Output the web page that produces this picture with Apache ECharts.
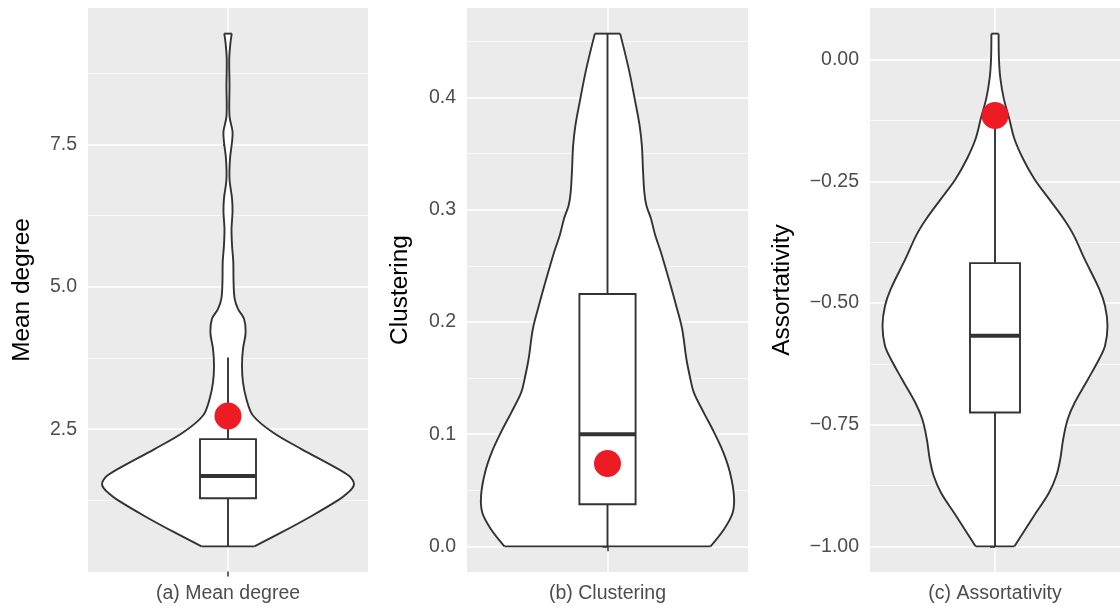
<!DOCTYPE html>
<html><head><meta charset="utf-8">
<script src="https://cdn.jsdelivr.net/npm/echarts@6/dist/echarts.min.js"></script>
<style>html,body{margin:0;padding:0;background:#fff}#c{width:1120px;height:606px}</style>
</head><body><div id="c"></div><script>
// ---------- data ----------
const categories = ['(a) Mean degree', '(b) Clustering', '(c) Assortativity'];
const axisTitles = ['Mean degree', 'Clustering', 'Assortativity'];

// violin outlines: value and relative density width (1 = widest)
const meanDegreeValues = [0.44, 0.68, 0.97, 1.27, 1.38, 1.46, 1.53, 1.60, 1.68, 1.85, 2.15, 2.44, 2.74, 3.03, 3.32, 3.62, 3.91, 4.2, 4.44, 4.61, 4.79, 5.09, 5.44, 5.73, 6.02, 6.32, 6.55, 6.9, 7.25, 7.55, 7.73, 8.0, 8.54, 9.01, 9.3, 9.45];
const meanDegreeWidths = [0.21, 0.42, 0.66, 0.887, 0.95, 0.985, 1.0, 0.99, 0.96, 0.833, 0.583, 0.357, 0.198, 0.146, 0.119, 0.111, 0.119, 0.14, 0.127, 0.08, 0.053, 0.044, 0.042, 0.032, 0.028, 0.036, 0.032, 0.012, 0.016, 0.032, 0.036, 0.012, 0.012, 0.01, 0.02, 0.03];

const clusteringValues = [0, 0.015, 0.030, 0.045, 0.066, 0.084, 0.102, 0.119, 0.137, 0.149, 0.167, 0.194, 0.215, 0.238, 0.262, 0.277, 0.292, 0.304, 0.316, 0.337, 0.357, 0.375, 0.396, 0.426, 0.457];
const clusteringWidths = [0.815, 0.92, 0.99, 1.0, 0.968, 0.915, 0.841, 0.762, 0.683, 0.656, 0.624, 0.59, 0.542, 0.485, 0.423, 0.378, 0.344, 0.307, 0.291, 0.28, 0.272, 0.254, 0.22, 0.167, 0.10];

const assortativityValues = [-1.0, -0.972, -0.931, -0.89, -0.855, -0.821, -0.78, -0.739, -0.704, -0.656, -0.615, -0.588, -0.547, -0.506, -0.471, -0.41, -0.361, -0.327, -0.286, -0.245, -0.204, -0.163, -0.121, -0.08, -0.039, 0.002, 0.0535];
const assortativityWidths = [0.173, 0.25, 0.364, 0.48, 0.545, 0.58, 0.606, 0.646, 0.71, 0.828, 0.926, 0.978, 1.0, 0.978, 0.926, 0.797, 0.70, 0.61, 0.48, 0.35, 0.25, 0.173, 0.126, 0.078, 0.048, 0.035, 0.032];

// box plots: [lower whisker, Q1, median, Q3, upper whisker]
const meanDegreeBox = [0.44, 1.285, 1.678, 2.324, 3.76];
const clusteringBox = [0, 0.0375, 0.1, 0.225, 0.457];
const assortativityBox = [-1.0, -0.725, -0.567, -0.418, -0.12];

// observed values (red points)
const meanDegreeObserved = 2.73;
const clusteringObserved = 0.0738;
const assortativityObserved = -0.1146;

// tick labels
const meanDegreeTicks = [2.5, 5.0, 7.5];
const meanDegreeMinor = [1.25, 3.75, 6.25, 8.75];
const clusteringTicks = [0.0, 0.1, 0.2, 0.3, 0.4];
const clusteringMinor = [0.05, 0.15, 0.25, 0.35, 0.45];
const assortativityTicks = [-1.0, -0.75, -0.5, -0.25, 0.0];
const assortativityMinor = [-0.875, -0.625, -0.375, -0.125];

// ---------- layout / style ----------
const FONT = '"Liberation Sans", Arial, Helvetica, sans-serif';
const INK = '#333333';
const LW = 1.9;
const panels = [
  {vals: meanDegreeValues, widths: meanDegreeWidths, box: meanDegreeBox, obs: meanDegreeObserved,
   ticks: meanDegreeTicks, minor: meanDegreeMinor, fmt: v => v.toFixed(1),
   grid: {left: 88, top: 8, width: 280, height: 564}, nameGap: 54},
  {vals: clusteringValues, widths: clusteringWidths, box: clusteringBox, obs: clusteringObserved,
   ticks: clusteringTicks, minor: clusteringMinor, fmt: v => v.toFixed(1),
   grid: {left: 467, top: 8, width: 281, height: 564}, nameGap: 55},
  {vals: assortativityValues, widths: assortativityWidths, box: assortativityBox, obs: assortativityObserved,
   ticks: assortativityTicks, minor: assortativityMinor,
   fmt: v => (v < 0 ? '\u2212' : '') + Math.abs(v).toFixed(2),
   grid: {left: 870, top: 8, width: 255, height: 564}, nameGap: 76}
];

const VIOLIN_HALF = 0.45, BOX_HALF = 0.1;

function violinRender(vals, widths) {
  return function (params, api) {
    const n = vals.length;
    const left = vals.map((v, i) => api.coord([-widths[i] * VIOLIN_HALF, v]));
    const right = vals.map((v, i) => api.coord([widths[i] * VIOLIN_HALF, v]));
    const fillPts = left.concat(right.slice().reverse());
    const st = {stroke: INK, lineWidth: LW, fill: 'none', lineJoin: 'round'};
    return {type: 'group', children: [
      {type: 'polygon', shape: {points: fillPts}, style: {fill: '#ffffff', stroke: 'none'}},
      {type: 'polyline', shape: {points: left, smooth: 0.35}, style: st},
      {type: 'polyline', shape: {points: right, smooth: 0.35}, style: st},
      {type: 'line', shape: {x1: left[0][0], y1: left[0][1], x2: right[0][0], y2: right[0][1]}, style: st},
      {type: 'line', shape: {x1: left[n-1][0], y1: left[n-1][1], x2: right[n-1][0], y2: right[n-1][1]}, style: st}
    ]};
  };
}

function boxRender(box) {
  return function (params, api) {
    const [lo, q1, med, q3, hi] = box;
    const pLo = api.coord([0, lo]), pQ1 = api.coord([0, q1]);
    const pQ3 = api.coord([0, q3]), pHi = api.coord([0, hi]);
    const tl = api.coord([-BOX_HALF, q3]), br = api.coord([BOX_HALF, q1]);
    const ml = api.coord([-BOX_HALF, med]), mr = api.coord([BOX_HALF, med]);
    const st = {stroke: INK, lineWidth: LW, fill: 'none'};
    return {type: 'group', children: [
      {type: 'line', shape: {x1: pLo[0], y1: pLo[1], x2: pQ1[0], y2: pQ1[1]}, style: st},
      {type: 'line', shape: {x1: pQ3[0], y1: pQ3[1], x2: pHi[0], y2: pHi[1]}, style: st},
      {type: 'rect', shape: {x: tl[0], y: tl[1], width: br[0] - tl[0], height: br[1] - tl[1]},
       style: {fill: '#ffffff', stroke: INK, lineWidth: LW}},
      {type: 'line', shape: {x1: ml[0], y1: ml[1], x2: mr[0], y2: mr[1]}, style: {stroke: INK, lineWidth: 4}}
    ]};
  };
}

const grids = [], xAxes = [], yAxes = [], series = [];
panels.forEach((p, i) => {
  const lo = Math.min(...p.vals), hi = Math.max(...p.vals);
  const pad = 0.05 * (hi - lo);
  const yMin = lo - pad, yMax = hi + pad;
  grids.push(Object.assign({show: true, backgroundColor: '#EBEBEB', borderWidth: 0}, p.grid));
  xAxes.push({
    type: 'value', gridIndex: i, min: -0.5, max: 0.5,
    axisLine: {show: false},
    axisTick: {show: true, length: 5, customValues: [0], lineStyle: {color: INK, width: 1.5}},
    axisLabel: {show: true, customValues: [0], margin: 10, padding: [2, 0, 0, 0], formatter: () => categories[i],
      color: '#4D4D4D', fontSize: 19.5, fontFamily: FONT},
    splitLine: {show: true, lineStyle: {color: '#ffffff', width: 1.5}}
  });
  yAxes.push({
    type: 'value', gridIndex: i, min: yMin, max: yMax, position: 'left',
    name: axisTitles[i], nameLocation: 'middle', nameRotate: 90, nameGap: p.nameGap,
    nameTextStyle: {color: '#000000', fontSize: 24.4, fontFamily: FONT},
    axisLine: {show: false},
    axisTick: {show: true, length: 5, customValues: p.ticks, lineStyle: {color: INK, width: 1.5}},
    axisLabel: {show: true, customValues: p.ticks, margin: 11, padding: [5, 0, 0, 0], formatter: p.fmt,
      color: '#4D4D4D', fontSize: 19.5, fontFamily: FONT},
    splitLine: {show: true, lineStyle: {color: '#ffffff', width: 1.5}}
  });
  yAxes.push({
    type: 'value', gridIndex: i, min: yMin, max: yMax, position: 'left',
    axisLine: {show: false},
    axisTick: {show: false, customValues: p.minor},
    axisLabel: {show: false},
    splitLine: {show: true, lineStyle: {color: '#ffffff', width: 0.75}}
  });
});

panels.forEach((p, i) => {
  const yIdx = i * 2;
  series.push({type: 'custom', xAxisIndex: i, yAxisIndex: yIdx, z: 2, silent: true, clip: false,
    renderItem: violinRender(p.vals, p.widths), data: [[0, p.box[2]]]});
  series.push({type: 'custom', xAxisIndex: i, yAxisIndex: yIdx, z: 3, silent: true, clip: false,
    renderItem: boxRender(p.box), data: [[0, p.box[2]]]});
  series.push({type: 'scatter', xAxisIndex: i, yAxisIndex: yIdx, z: 4, silent: true,
    symbol: 'circle', symbolSize: 27, itemStyle: {color: '#ED1C24', opacity: 1},
    data: [[0, p.obs]]});
});

const chart = echarts.init(document.getElementById('c'), null, {renderer: 'canvas'});
chart.setOption({animation: false, backgroundColor: '#ffffff',
  grid: grids, xAxis: xAxes, yAxis: yAxes, series: series});
</script></body></html>
